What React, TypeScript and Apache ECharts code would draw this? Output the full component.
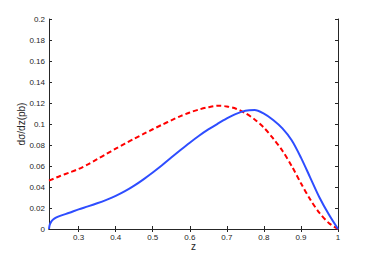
import React, { useEffect, useRef } from "react";
import * as echarts from "echarts";

const blueZ = [0.22, 0.222, 0.226, 0.232, 0.24, 0.25, 0.275, 0.3, 0.325, 0.35, 0.375, 0.4, 0.425, 0.45, 0.475, 0.5, 0.525, 0.55, 0.575, 0.6, 0.625, 0.65, 0.675, 0.7, 0.725, 0.75, 0.775, 0.8, 0.825, 0.85, 0.875, 0.9, 0.925, 0.95, 0.975, 1.0];
const blueV = [0, 0.004, 0.007, 0.0093, 0.011, 0.0125, 0.0155, 0.0187, 0.0215, 0.0245, 0.0278, 0.0315, 0.036, 0.0413, 0.0473, 0.0538, 0.0607, 0.068, 0.0752, 0.0822, 0.0888, 0.0948, 0.1002, 0.1053, 0.1097, 0.1127, 0.1133, 0.1098, 0.1038, 0.0958, 0.0845, 0.068, 0.049, 0.03, 0.014, 0];
const redZ = [0.22, 0.25, 0.275, 0.3, 0.325, 0.35, 0.375, 0.4, 0.425, 0.45, 0.475, 0.5, 0.525, 0.55, 0.575, 0.6, 0.625, 0.65, 0.675, 0.7, 0.725, 0.75, 0.775, 0.8, 0.825, 0.85, 0.875, 0.9, 0.925, 0.95, 0.975, 1.0];
const redV = [0.046, 0.0505, 0.0538, 0.0572, 0.0615, 0.0665, 0.0715, 0.0765, 0.0813, 0.086, 0.0905, 0.095, 0.0993, 0.1035, 0.1075, 0.111, 0.1138, 0.116, 0.1174, 0.1167, 0.1145, 0.1103, 0.1043, 0.0965, 0.0862, 0.0745, 0.06, 0.0435, 0.0282, 0.0153, 0.0058, 0];
const xTicks = [0.3, 0.4, 0.5, 0.6, 0.7, 0.8, 0.9, 1];

export default function App() {
  const ref = useRef<HTMLDivElement>(null);
  useEffect(() => {
    if (!ref.current) return;
    const chart = echarts.init(ref.current, undefined, { renderer: "svg" });
    const axisColor = "#262626";
    const font = "Liberation Sans, Arial, sans-serif";
    chart.setOption({
      animation: false,
      backgroundColor: "#ffffff",
      grid: { left: 49, right: 36, top: 19, bottom: 29 },
      xAxis: [
        {
          type: "value",
          min: 0.22,
          max: 1,
          name: "z",
          nameLocation: "middle",
          nameGap: 12,
          nameMoveOverlap: false,
          nameTextStyle: { color: axisColor, fontSize: 10, fontFamily: font },
          axisLine: { show: true, lineStyle: { color: axisColor, width: 1 } },
          axisTick: { show: true, inside: true, length: 3, customValues: xTicks, lineStyle: { color: axisColor } },
          axisLabel: { customValues: xTicks, color: axisColor, fontSize: 8, fontFamily: font, margin: 4, formatter: (v: number) => String(+v.toFixed(2)) },
          splitLine: { show: false },
        },
        {
          type: "value",
          position: "top",
          min: 0.22,
          max: 1,
          axisLine: { show: true, lineStyle: { color: axisColor, width: 1 } },
          axisTick: { show: true, inside: true, length: 3, customValues: xTicks, lineStyle: { color: axisColor } },
          axisLabel: { show: false },
          splitLine: { show: false },
        },
      ],
      yAxis: [
        {
          type: "value",
          min: 0,
          max: 0.2,
          interval: 0.02,
          name: "dσ/dz(pb)",
          nameLocation: "middle",
          nameGap: 23,
          nameMoveOverlap: false,
          nameTextStyle: { color: axisColor, fontSize: 10, fontFamily: font },
          axisLine: { show: true, lineStyle: { color: axisColor, width: 1 } },
          axisTick: { show: true, inside: true, length: 3, lineStyle: { color: axisColor } },
          axisLabel: { color: axisColor, fontSize: 8, fontFamily: font, margin: 4, formatter: (v: number) => String(+v.toFixed(2)) },
          splitLine: { show: false },
        },
        {
          type: "value",
          position: "right",
          min: 0,
          max: 0.2,
          interval: 0.02,
          axisLine: { show: true, lineStyle: { color: axisColor, width: 1 } },
          axisTick: { show: true, inside: true, length: 3, lineStyle: { color: axisColor } },
          axisLabel: { show: false },
          splitLine: { show: false },
        },
      ],
      series: [
        {
          type: "line",
          xAxisIndex: 0,
          yAxisIndex: 0,
          data: redZ.map((z, i) => [z, redV[i]]),
          smooth: 0.3,
          showSymbol: false,
          lineStyle: { color: "#ff0000", width: 2, type: [5, 3] },
          z: 2,
        },
        {
          type: "line",
          xAxisIndex: 0,
          yAxisIndex: 0,
          data: blueZ.map((z, i) => [z, blueV[i]]),
          smooth: 0.3,
          showSymbol: false,
          lineStyle: { color: "#2e4dff", width: 2 },
          z: 3,
        },
      ],
    });
    return () => chart.dispose();
  }, []);
  return <div ref={ref} style={{ position: "fixed", left: 0, top: 0, width: 374, height: 258 }} />;
}
